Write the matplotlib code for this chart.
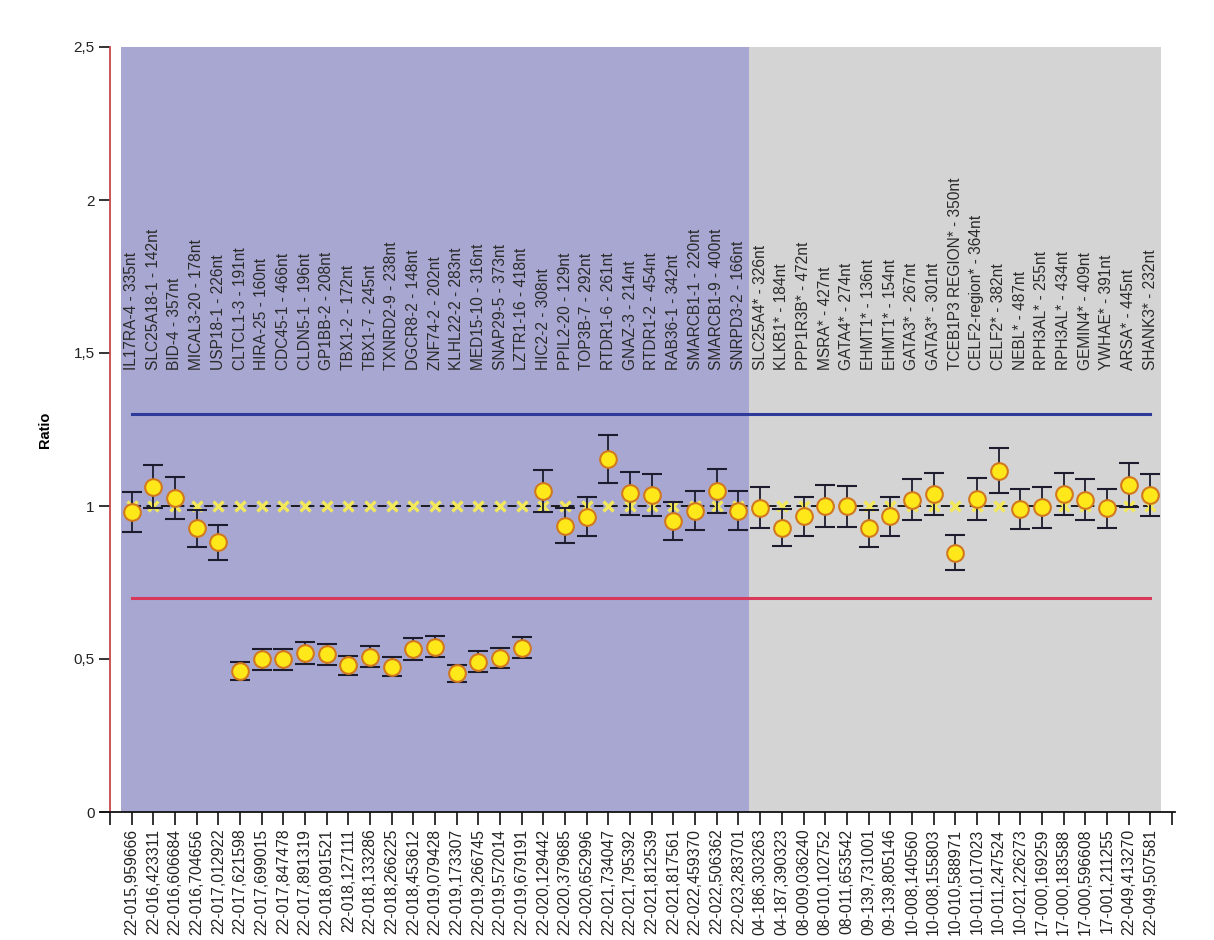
import matplotlib
matplotlib.use("Agg")
import matplotlib.pyplot as plt

plt.rcParams['font.family'] = ['Liberation Sans', 'DejaVu Sans']

genes = ["IL17RA-4 - 335nt", "SLC25A18-1 - 142nt", "BID-4 - 357nt", "MICAL3-20 - 178nt",
         "USP18-1 - 226nt", "CLTCL1-3 - 191nt", "HIRA-25 - 160nt", "CDC45-1 - 466nt",
         "CLDN5-1 - 196nt", "GP1BB-2 - 208nt", "TBX1-2 - 172nt", "TBX1-7 - 245nt",
         "TXNRD2-9 - 238nt", "DGCR8-2 - 148nt", "ZNF74-2 - 202nt", "KLHL22-2 - 283nt",
         "MED15-10 - 316nt", "SNAP29-5 - 373nt", "LZTR1-16 - 418nt", "HIC2-2 - 308nt",
         "PPIL2-20 - 129nt", "TOP3B-7 - 292nt", "RTDR1-6 - 261nt", "GNAZ-3 - 214nt",
         "RTDR1-2 - 454nt", "RAB36-1 - 342nt", "SMARCB1-1 - 220nt", "SMARCB1-9 - 400nt",
         "SNRPD3-2 - 166nt",
         "SLC25A4* - 326nt", "KLKB1* - 184nt", "PPP1R3B* - 472nt", "MSRA* - 427nt",
         "GATA4* - 274nt", "EHMT1* - 136nt", "EHMT1* - 154nt", "GATA3* - 267nt",
         "GATA3* - 301nt", "TCEB1P3 REGION* - 350nt", "CELF2-region* - 364nt",
         "CELF2* - 382nt", "NEBL* - 487nt", "RPH3AL* - 255nt", "RPH3AL* - 434nt",
         "GEMIN4* - 409nt", "YWHAE* - 391nt", "ARSA* - 445nt", "SHANK3* - 232nt"]

positions = ["22-015,959666", "22-016,423311", "22-016,606684", "22-016,704656",
             "22-017,012922", "22-017,621598", "22-017,699015", "22-017,847478",
             "22-017,891319", "22-018,091521", "22-018,127111", "22-018,133286",
             "22-018,266225", "22-018,453612", "22-019,079428", "22-019,173307",
             "22-019,266745", "22-019,572014", "22-019,679191", "22-020,129442",
             "22-020,379685", "22-020,652996", "22-021,734047", "22-021,795392",
             "22-021,812539", "22-021,817561", "22-022,459370", "22-022,506362",
             "22-023,283701",
             "04-186,303263", "04-187,390323", "08-009,036240", "08-010,102752",
             "08-011,653542", "09-139,731001", "09-139,805146", "10-008,140560",
             "10-008,155803", "10-010,588971", "10-011,017023", "10-011,247524",
             "10-021,226273", "17-000,169259", "17-000,183588", "17-000,596608",
             "17-001,211255", "22-049,413270", "22-049,507581"]

ratios = [0.981, 1.063, 1.027, 0.927, 0.881, 0.462, 0.499, 0.499, 0.519, 0.515,
          0.480, 0.508, 0.475, 0.532, 0.540, 0.453, 0.491, 0.502, 0.537, 1.049,
          0.936, 0.965, 1.153, 1.041, 1.036, 0.951, 0.985, 1.049, 0.985,
          0.995, 0.929, 0.966, 1.000, 0.999, 0.927, 0.967, 1.021, 1.039, 0.848,
          1.024, 1.115, 0.990, 0.996, 1.039, 1.021, 0.992, 1.069, 1.035]

errors = [0.066, 0.070, 0.068, 0.060, 0.058, 0.029, 0.034, 0.034, 0.036, 0.034,
          0.031, 0.033, 0.031, 0.035, 0.035, 0.029, 0.035, 0.033, 0.035, 0.070,
          0.058, 0.063, 0.078, 0.069, 0.069, 0.062, 0.065, 0.071, 0.065,
          0.066, 0.060, 0.064, 0.067, 0.067, 0.061, 0.064, 0.067, 0.069, 0.056,
          0.069, 0.074, 0.064, 0.067, 0.069, 0.067, 0.065, 0.072, 0.069]

n_first = 29          # number of chromosome-22 probes (blue region)
expected = 1.0
upper_threshold = 1.3
lower_threshold = 0.7
y_ticks = [0, 0.5, 1, 1.5, 2, 2.5]
y_ticklabels = ["0", "0,5", "1", "1,5", "2", "2,5"]

n = len(genes)
x = list(range(n))

fig = plt.figure(figsize=(12.14, 9.40), dpi=100)
ax = fig.add_axes([100 / 1214, 128 / 940, 1075 / 1214, 765 / 940])
ax.set_xlim(-1.46, 48.14)
ax.set_ylim(0, 2.5)

# background regions
ax.axvspan(-0.5, n_first - 0.5, ymin=0, ymax=1, color='#A7A7D2', lw=0, zorder=0)
ax.axvspan(n_first - 0.5, n - 0.5, ymin=0, ymax=1, color='#D4D4D4', lw=0, zorder=0)

# threshold lines
ax.plot([0, n - 1], [upper_threshold] * 2, color='#2E3B9A', lw=2.2, zorder=2)
ax.plot([0, n - 1], [lower_threshold] * 2, color='#D8395A', lw=2.2, zorder=2)

# expected ratio line with markers
ax.plot([0, n - 1], [expected] * 2, color='#111111', lw=1.3, ls=(0, (5, 3)), zorder=2)
ax.plot(x, [expected] * n, ls='none', marker='x', color='#F2E85A', ms=6.5, mew=2.4, zorder=3)

# data
ax.errorbar(x, ratios, yerr=errors, fmt='o', ms=12, mfc='#FFE81A', mec='#D2781E', mew=1.5,
            ecolor='#1C1C2E', elinewidth=1.3, capsize=7, capthick=1.3, zorder=4)

# gene labels
for xi, g in zip(x, genes):
    ax.text(xi, 1.444, g, rotation=90, ha='center', va='bottom', fontsize=11.2,
            color='#2a2a2a', zorder=5)

# axes styling
ax.spines['top'].set_visible(False)
ax.spines['right'].set_visible(False)
ax.spines['left'].set_position(('data', -1))
ax.spines['left'].set_color('#C8464B')
ax.spines['left'].set_linewidth(1.3)
ax.spines['bottom'].set_color('#111111')
ax.spines['bottom'].set_linewidth(1.3)

ax.set_xticks(list(range(-1, n + 1)))
ax.set_xticklabels([''] + positions + [''], rotation=90, fontsize=11.3, color='#222222')
ax.tick_params(axis='x', direction='out', length=9, width=1.2, color='#111111', pad=3)

ax.set_yticks(y_ticks)
ax.set_yticklabels(y_ticklabels, fontsize=11, color='#222222')
ax.tick_params(axis='y', direction='out', length=8, width=1.2, color='#111111', pad=3)

fig.text(45 / 1214, 1 - 430 / 940, 'Ratio', rotation=90, ha='center', va='center',
         fontsize=10.5, fontweight='bold')

fig.savefig('out.png', dpi=100, facecolor='white')
